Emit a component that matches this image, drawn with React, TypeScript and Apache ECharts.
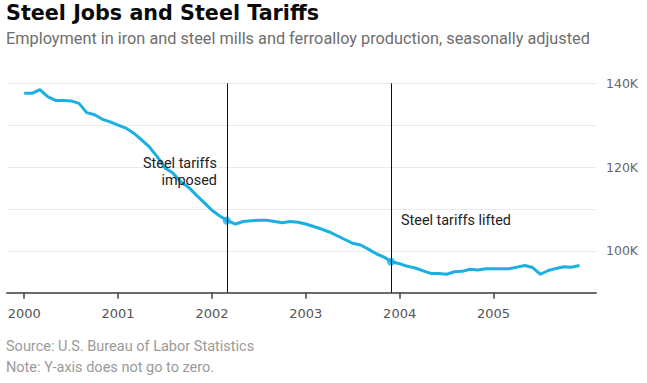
import React, { useEffect, useRef } from "react";
import * as echarts from "echarts";

// Monthly employment, Jan 2000 – Dec 2005 (thousands)
const months: string[] = [];
for (let y = 2000; y <= 2005; y++) for (let m = 1; m <= 12; m++) months.push(`${y}-${String(m).padStart(2, "0")}`);

const employment = [
  137.6, 137.6, 138.5, 136.8, 135.9, 135.9, 135.8, 135.2, 133.0, 132.5, 131.4, 130.8,
  130.0, 129.3, 128.1, 126.5, 124.8, 122.5, 119.8, 118.6, 116.5, 115.2, 113.3, 111.5,
  109.7, 108.3, 107.2, 106.4, 107.0, 107.2, 107.3, 107.3, 107.0, 106.7, 107.0, 106.8,
  106.4, 105.8, 105.2, 104.5, 103.6, 102.7, 101.8, 101.4, 100.4, 99.3, 98.5, 97.4,
  96.9, 96.3, 95.9, 95.2, 94.6, 94.6, 94.4, 95.0, 95.1, 95.6, 95.4, 95.7,
  95.7, 95.7, 95.7, 96.1, 96.5, 96.0, 94.4, 95.3, 95.8, 96.2, 96.1, 96.5,
];

// Tariff events: month offset from Jan 2000, employment at that moment
const eventLabels = [["Steel tariffs", "imposed"], ["Steel tariffs lifted"]];
const eventMonths = [25.9, 46.9];
const eventValues = [107.2, 97.4];

const yearTicks = [2000, 2001, 2002, 2003, 2004, 2005];
const yTickLabels = [100, 120, 140];

export default function App() {
  const ref = useRef<HTMLDivElement>(null);
  useEffect(() => {
    if (!ref.current) return;
    const chart = echarts.init(ref.current, undefined, { renderer: "svg" });
    const lineColor = "#1ab0e3";
    const data = employment.map((v, i) => [i, v * 1000]);
    const tickVals = yearTicks.map((y) => (y - 2000) * 12);
    const annFont = "14.4px Roboto";
    chart.setOption({
      animation: false,
      grid: { left: 7, right: 51, top: 83.3, bottom: 90.3 },
      xAxis: {
        type: "value",
        min: -2.2,
        max: 73.1,
        splitLine: { show: false },
        axisLine: { onZero: false, lineStyle: { color: "#6b6b6b", width: 2 } },
        axisTick: { show: true, length: 6, lineStyle: { color: "#444", width: 1.5 }, customValues: tickVals },
        axisLabel: {
          customValues: tickVals,
          formatter: (v: number) => String(2000 + Math.round(v / 12)),
          color: "#555",
          fontFamily: "DejaVu Sans",
          fontSize: 13,
          margin: 14,
        },
      },
      yAxis: {
        type: "value",
        position: "right",
        min: 90000,
        max: 140000,
        interval: 10000,
        axisLine: { show: false },
        axisTick: { show: false },
        splitLine: { lineStyle: { color: "#e9e9e9", width: 1 } },
        axisLabel: {
          formatter: (v: number) => (yTickLabels.includes(v / 1000) ? `${v / 1000}K` : ""),
          color: "#666",
          fontFamily: "DejaVu Sans",
          fontSize: 12.5,
          margin: 10,
        },
      },
      series: [
        {
          type: "line",
          data,
          showSymbol: false,
          lineStyle: { color: lineColor, width: 3 },
          markLine: {
            silent: true,
            symbol: ["none", "none"],
            label: { show: false },
            lineStyle: { color: "#111", width: 1, type: "solid" },
            data: eventMonths.map((m) => [
              { coord: [m, 90000] },
              { coord: [m, 140000] },
            ]),
          },
          z: 3,
        },
        {
          type: "scatter",
          data: eventMonths.map((m, i) => [m, eventValues[i] * 1000]),
          symbolSize: 8,
          itemStyle: { color: lineColor },
          z: 4,
        },
      ],
      graphic: [
        {
          type: "text",
          left: 6,
          top: 2,
          style: { text: "Steel Jobs and Steel Tariffs", font: "bold 20.7px 'DejaVu Sans'", fill: "#0a0a0a" },
        },
        {
          type: "text",
          left: 6,
          top: 30,
          style: {
            text: "Employment in iron and steel mills and ferroalloy production, seasonally adjusted",
            font: "16.3px Roboto",
            fill: "#6e6e6e",
          },
        },
        {
          type: "text",
          x: 217,
          y: 163.5,
          z: 100,
          style: { text: eventLabels[0][0], font: annFont, fill: "#222", align: "right", verticalAlign: "middle" },
        },
        {
          type: "text",
          x: 217,
          y: 180,
          z: 100,
          style: { text: eventLabels[0][1], font: annFont, fill: "#222", align: "right", verticalAlign: "middle" },
        },
        {
          type: "text",
          x: 401,
          y: 220.5,
          z: 100,
          style: { text: eventLabels[1][0], font: annFont, fill: "#222", verticalAlign: "middle" },
        },
        {
          type: "text",
          left: 6,
          top: 339,
          style: { text: "Source: U.S. Bureau of Labor Statistics", font: "14.5px Roboto", fill: "#9a9a9a" },
        },
        {
          type: "text",
          left: 6,
          top: 360,
          style: { text: "Note: Y-axis does not go to zero.", font: "14.5px Roboto", fill: "#9a9a9a" },
        },
      ],
    });
    return () => chart.dispose();
  }, []);
  return (
    <div
      ref={ref}
      style={{ position: "fixed", left: 0, top: 0, width: 647, height: 383, background: "#fff" }}
    />
  );
}
